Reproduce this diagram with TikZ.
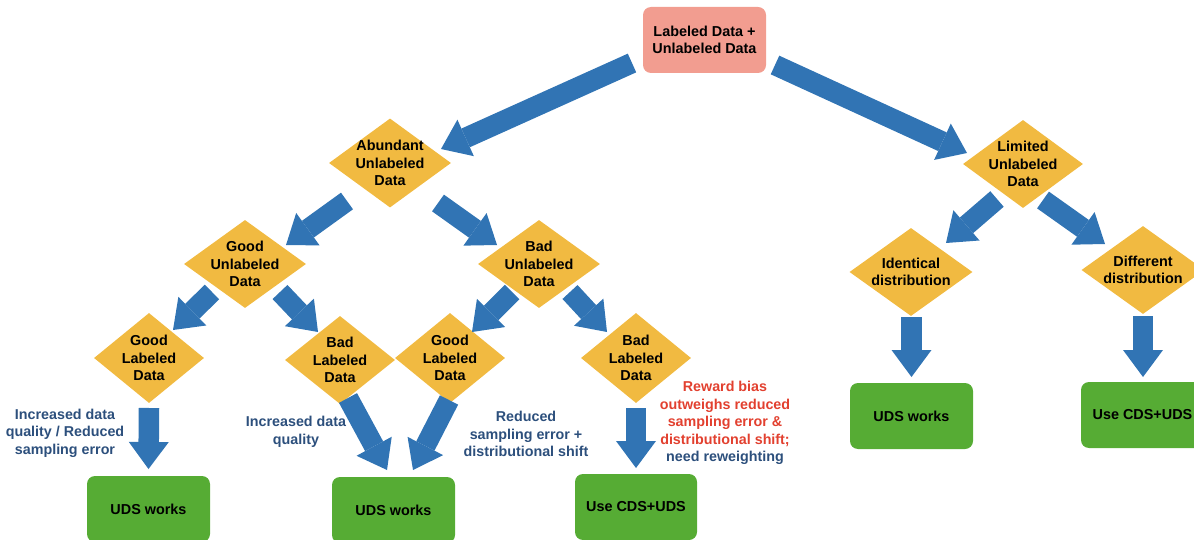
\documentclass[tikz,border=0pt]{standalone}
\usepackage{fontspec}
\setmainfont{Liberation Sans}
\usetikzlibrary{arrows.meta,shapes.geometric}
\definecolor{salmon}{HTML}{F29D90}
\definecolor{ylw}{HTML}{F1BA41}
\definecolor{grn}{HTML}{56AC34}
\definecolor{arrblue}{HTML}{3174B4}
\definecolor{lblblue}{HTML}{2C4F7C}
\definecolor{lblred}{HTML}{E2402F}
\begin{document}
\begin{tikzpicture}[x=1pt,y=-1pt,
  txt/.style={font=\bfseries\fontsize{14.4}{17.5}\selectfont, align=center, text=black, inner sep=0pt},
  lbl/.style={font=\bfseries\fontsize{14.3}{17.6}\selectfont, align=center, text=lblblue, inner sep=0pt},
  dia/.style={diamond, fill=ylw, inner sep=0pt, minimum width=122pt, minimum height=89pt},
  sdia/.style={dia, minimum width=110pt, minimum height=90pt},
  rbox/.style={rectangle, rounded corners=8pt, minimum width=123pt, minimum height=66pt, inner sep=0pt, font=\bfseries\fontsize{14.4}{17.5}\selectfont, align=center},
  gbox/.style={rbox, fill=grn},
  barrow/.style={draw=arrblue, line width=20.5pt, line cap=butt, -{Triangle[width=40pt,length=27pt,line width=0pt,fill=arrblue]}}
]
\useasboundingbox (0,0) rectangle (1194,540);

% root
\node[rbox, fill=salmon] (root) at (704.5,40) {Labeled Data +\\Unlabeled Data};

% diamonds
\node[dia] (abund) at (390,163) {};
\node[txt] (abund-t) at (abund) {Abundant\\Unlabeled\\Data};
\node[dia, minimum width=120pt, minimum height=88pt] (limit) at (1023,164) {};
\node[txt] (limit-t) at (limit) {Limited\\Unlabeled\\Data};
\node[dia, minimum height=88pt] (goodu) at (245,264) {};
\node[txt] (goodu-t) at (goodu) {Good\\Unlabeled\\Data};
\node[dia, minimum height=88pt] (badu) at (539,264) {};
\node[txt] (badu-t) at (badu) {Bad\\Unlabeled\\Data};
\node[sdia] (goodl1) at (149,358) {};
\node[txt] (goodl1-t) at (goodl1) {Good\\Labeled\\Data};
\node[sdia, minimum height=88pt] (badl1) at (340,360) {};
\node[txt] (badl1-t) at (badl1) {Bad\\Labeled\\Data};
\node[sdia] (goodl2) at (450,358) {};
\node[txt] (goodl2-t) at (goodl2) {Good\\Labeled\\Data};
\node[sdia] (badl2) at (636,358) {};
\node[txt] (badl2-t) at (badl2) {Bad\\Labeled\\Data};
\node[dia, minimum width=123pt, minimum height=88pt] (ident) at (911,272) {};
\node[txt] (ident-t) at (ident) {Identical\\distribution};
\node[dia, minimum width=123pt, minimum height=88pt] (diff) at (1143,270) {};
\node[txt] (diff-t) at (diff) {Different\\distribution};

% green boxes
\node[gbox] (uds1) at (148.5,509) {UDS works};
\node[gbox] (uds2) at (393.5,510) {UDS works};
\node[gbox, minimum width=122pt] (cds1) at (636,507) {Use CDS+UDS};
\node[gbox] (uds3) at (911.5,416) {UDS works};
\node[gbox] (cds2) at (1142.5,415) {Use CDS+UDS};

% labels
\node[lbl] (l1) at (65,433) {Increased data\\quality / Reduced\\sampling error};
\node[lbl] (l2) at (296,432) {Increased data\\quality};
\node[lbl] (l3) at (526,434) {Reduced\\sampling error +\\distributional shift};
\node[lbl, text=lblred] (l4) at (725,423) {Reward bias\\outweighs reduced\\sampling error \&\\distributional shift;\\\textcolor{lblblue}{need reweighting}};

% arrows
\draw[barrow] ([shift={(-72.5,23)}]root.center) -- ([shift={(51,-14)}]abund.center);
\draw[barrow] ([shift={(70.5,25)}]root.center) -- ([shift={(-56,-11)}]limit.center);
\draw[barrow] ([shift={(-43,38)}]abund.center) -- ([shift={(41,-19)}]goodu.center);
\draw[barrow] ([shift={(48,40)}]abund.center) -- ([shift={(-42,-19)}]badu.center);
\draw[barrow] ([shift={(-26,35)}]limit.center) -- ([shift={(35,-29)}]ident.center);
\draw[barrow] ([shift={(20,36)}]limit.center) -- ([shift={(-38,-26)}]diff.center);
\draw[barrow] ([shift={(-33,28)}]goodu.center) -- ([shift={(24,-28)}]goodl1.center);
\draw[barrow] ([shift={(35,28)}]goodu.center) -- ([shift={(-22,-28)}]badl1.center);
\draw[barrow] ([shift={(-27,28)}]badu.center) -- ([shift={(22,-26)}]goodl2.center);
\draw[barrow] ([shift={(31,28)}]badu.center) -- ([shift={(-29,-26)}]badl2.center);
\draw[barrow] ([shift={(0,50)}]goodl1.center) -- ([shift={(0,-40)}]uds1.center);
\draw[barrow] ([shift={(8,38)}]badl1.center) -- ([shift={(-6.5,-40)}]uds2.center);
\draw[barrow] ([shift={(-1,42)}]goodl2.center) -- ([shift={(19.5,-40)}]uds2.center);
\draw[barrow] ([shift={(0,50)}]badl2.center) -- ([shift={(0,-39)}]cds1.center);
\draw[barrow] ([shift={(0.5,45)}]ident.center) -- ([shift={(0,-39)}]uds3.center);
\draw[barrow] ([shift={(0,46)}]diff.center) -- ([shift={(0.5,-38)}]cds2.center);
\end{tikzpicture}
\end{document}
